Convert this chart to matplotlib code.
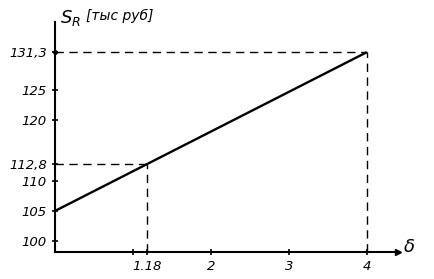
import matplotlib
matplotlib.use("Agg")
import matplotlib.pyplot as plt

# Data
x_line = [0, 4]
y_line = [105, 131.3]
mark_x = [1.18, 4]
mark_y = [112.8, 131.3]
yticks = [100, 105, 110, 112.8, 120, 125, 131.3]
ytick_labels = ["100", "105", "110", "112,8", "120", "125", "131,3"]
xticks = [1, 1.18, 2, 3, 4]
xtick_labels = ["", "1.18", "2", "3", "4"]

fig = plt.figure(figsize=(4.34, 2.79), dpi=100)
ax = fig.add_axes([55/434, 27/279, 343/434, 230/279])
ax.set_xlim(0, 4.4)
ax.set_ylim(98.2, 136.3)

ax.plot(x_line, y_line, color="black", lw=1.7, solid_capstyle="butt")
for mx, my in zip(mark_x, mark_y):
    ax.plot([0, mx], [my, my], color="black", lw=1.0, dashes=(6, 4))
    ax.plot([mx, mx], [98.2, my], color="black", lw=1.0, dashes=(6, 4))

for s in ["top", "right"]:
    ax.spines[s].set_visible(False)
for s in ["left", "bottom"]:
    ax.spines[s].set_linewidth(1.5)

ax.plot(1, 0, ">", color="black", ms=5, transform=ax.transAxes, clip_on=False)
ax.plot([0], [131.3], "o", color="black", ms=2.5, clip_on=False)

ax.set_yticks(yticks)
ax.set_yticklabels(ytick_labels, fontstyle="italic", fontsize=9.5, fontweight="medium")
ax.set_xticks(xticks)
ax.set_xticklabels(xtick_labels, fontstyle="italic", fontsize=9.5, fontweight="medium")
ax.tick_params(axis="both", direction="inout", length=4, width=1.2, pad=4)

fig.text(60/434, 1 - 18/279, "$S_R$", fontsize=13, fontstyle="italic", va="center", ha="left")
fig.text(86/434, 1 - 16/279, "[тыс руб]", fontsize=10, fontstyle="italic", va="center", ha="left")
fig.text(404/434, 1 - 247/279, "δ", fontsize=13, fontstyle="italic", va="center", ha="left")

fig.savefig("out.png", dpi=100)
